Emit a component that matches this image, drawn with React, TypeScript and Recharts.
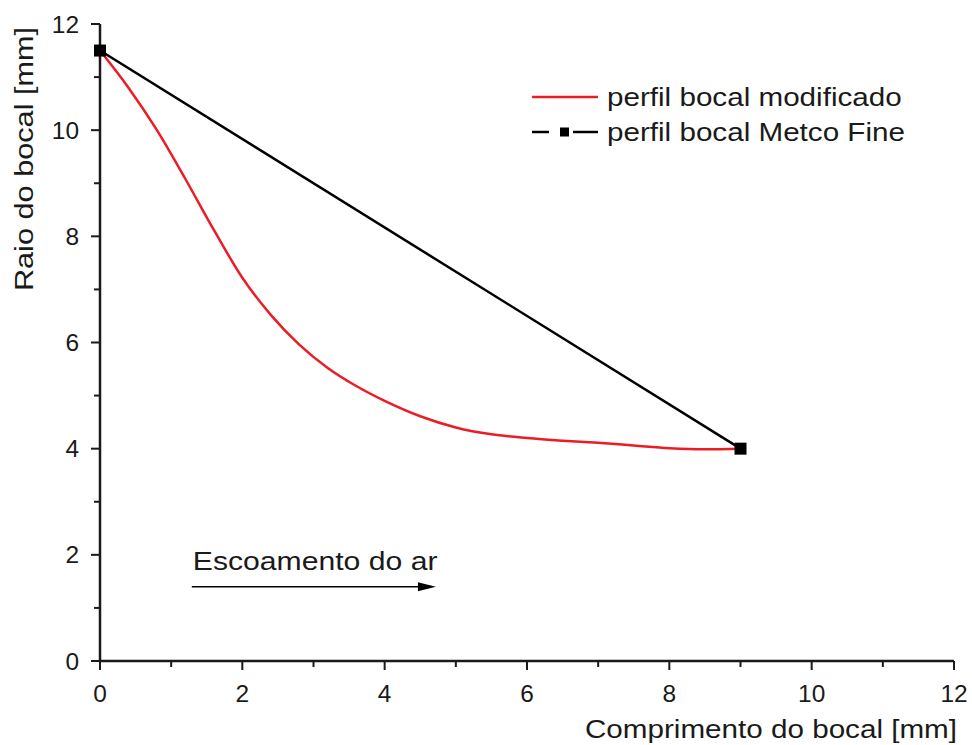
import React from 'react';
import { LineChart, Line, XAxis, YAxis, Legend, ReferenceLine } from 'recharts';

// ---- data ----
const modifiedX = [0, 0.4, 0.8, 1.2, 1.6, 2.0, 2.4, 2.8, 3.2, 3.6, 4.0, 4.5, 5.0, 5.5, 6.0, 6.5, 7.0, 7.5, 8.0, 8.5, 9.0];
const modifiedY = [11.5, 10.8, 10.0, 9.08, 8.12, 7.22, 6.52, 5.96, 5.52, 5.18, 4.9, 4.61, 4.4, 4.27, 4.2, 4.15, 4.11, 4.06, 4.01, 3.99, 4.0];
const metcoX = [0, 9];
const metcoY = [11.5, 4];
const xTicks = [0, 1, 2, 3, 4, 5, 6, 7, 8, 9, 10, 11, 12];
const yTicks = [0, 1, 2, 3, 4, 5, 6, 7, 8, 9, 10, 11, 12];
const seriesNames = ['perfil bocal modificado', 'perfil bocal Metco Fine'];
const flowArrowX = [1.29, 4.72];
const flowArrowY = 1.4;
const flowLabel = 'Escoamento do ar';
const xTitle = 'Comprimento do bocal [mm]';
const yTitle = 'Raio do bocal [mm]';

const modifiedData = modifiedX.map((x, i) => ({ x, y: modifiedY[i] }));
const metcoData = metcoX.map((x, i) => ({ x, y: metcoY[i] }));

const FONT = '"Liberation Sans", Arial, Helvetica, sans-serif';
const INK = '#1a1a1a';
const RED = '#ec1c24';

const XTick = (props: any) => {
  const { x, y, payload } = props;
  const major = payload.value % 2 === 0;
  return (
    <g>
      <line x1={x} x2={x} y1={y} y2={y + (major ? 9 : 6)} stroke={INK} strokeWidth={2} />
      {major && (
        <text
          transform={`translate(${x},${y + 41}) scale(1.02,1)`}
          textAnchor="middle"
          fontSize={24}
          fontFamily={FONT}
          fill={INK}
        >
          {payload.value}
        </text>
      )}
    </g>
  );
};

const YTick = (props: any) => {
  const { x, y, payload } = props;
  const major = payload.value % 2 === 0;
  return (
    <g>
      <line x1={x} x2={x - (major ? 9 : 6)} y1={y} y2={y} stroke={INK} strokeWidth={2} />
      {major && (
        <text
          transform={`translate(${x - 21},${y + 8.5}) scale(1.02,1)`}
          textAnchor="end"
          fontSize={24}
          fontFamily={FONT}
          fill={INK}
        >
          {payload.value}
        </text>
      )}
    </g>
  );
};

const XTitle = (props: any) => {
  const vb = props.viewBox || {};
  return (
    <text
      transform={`translate(${vb.x + vb.width + 3},${vb.y + 77}) scale(1.14,1)`}
      textAnchor="end"
      fontSize={26}
      fontFamily={FONT}
      fill={INK}
    >
      {xTitle}
    </text>
  );
};

const YTitle = (props: any) => {
  const vb = props.viewBox || {};
  return (
    <text
      transform={`translate(${vb.x + 33},${vb.y + 135}) rotate(-90) scale(1.18,1)`}
      textAnchor="middle"
      fontSize={26}
      fontFamily={FONT}
      fill={INK}
    >
      {yTitle}
    </text>
  );
};

const SquareDot = (props: any) => {
  const { cx, cy, index } = props;
  if (cx == null || cy == null) return <g key={`d${index}`} />;
  return <rect key={`d${index}`} x={cx - 6} y={cy - 6} width={12} height={12} fill="#000" />;
};

const ArrowShape = (props: any) => {
  const { x1, y1, x2 } = props;
  return (
    <g>
      <text
        transform={`translate(${x1 + 1},${y1 - 17}) scale(1.16,1)`}
        fontSize={26}
        fontFamily={FONT}
        fill={INK}
      >
        {flowLabel}
      </text>
      <line x1={x1} y1={y1} x2={x2 - 14} y2={y1} stroke="#000" strokeWidth={1.5} />
      <polygon points={`${x2 - 18},${y1 - 4.5} ${x2},${y1} ${x2 - 18},${y1 + 4.5}`} fill="#000" />
    </g>
  );
};

const renderLegend = (props: any) => {
  const payload = props.payload || [];
  const ordered = seriesNames
    .map((n) => payload.find((p: any) => p.value === n))
    .filter(Boolean);
  return (
    <svg width={420} height={80} style={{ display: 'block' }}>
      {ordered.map((item: any, i: number) => {
        const cy = 22 + i * 35;
        const withMarker = item.value === seriesNames[1];
        return (
          <g key={i}>
            {!withMarker ? (
              <line x1={7} x2={73} y1={cy} y2={cy} stroke={item.color} strokeWidth={2.5} />
            ) : (
              <g>
                <line x1={7} x2={24} y1={cy} y2={cy} stroke={item.color} strokeWidth={2.5} />
                <rect x={35} y={cy - 4.5} width={9} height={9} fill={item.color} />
                <line x1={48} x2={73} y1={cy} y2={cy} stroke={item.color} strokeWidth={2.5} />
              </g>
            )}
            <text
              transform={`translate(82,${cy + 9}) scale(1.14,1)`}
              fontSize={26}
              fontFamily={FONT}
              fill={INK}
            >
              {item.value}
            </text>
          </g>
        );
      })}
    </svg>
  );
};

export default function App() {
  return (
    <div style={{ position: 'absolute', left: 0, top: 0, width: 972, height: 745, background: '#fff' }}>
      <LineChart width={972} height={745} margin={{ top: 24, right: 18, bottom: 0, left: 0 }}>
        <XAxis
          type="number"
          dataKey="x"
          domain={[0, 12]}
          ticks={xTicks}
          interval={0}
          height={84}
          tickSize={0}
          tickMargin={0}
          tickLine={false}
          tick={XTick}
          axisLine={{ stroke: INK, strokeWidth: 2.5 }}
          allowDuplicatedCategory={false}
          label={{ content: XTitle }}
        />
        <YAxis
          type="number"
          dataKey="y"
          domain={[0, 12]}
          ticks={yTicks}
          interval={0}
          width={100}
          tickSize={0}
          tickMargin={0}
          tickLine={false}
          tick={YTick}
          axisLine={{ stroke: INK, strokeWidth: 2.5 }}
          label={{ content: YTitle }}
        />
        <ReferenceLine
          segment={[
            { x: flowArrowX[0], y: flowArrowY },
            { x: flowArrowX[1], y: flowArrowY },
          ]}
          shape={ArrowShape}
          ifOverflow="visible"
        />
        <Line
          data={modifiedData}
          dataKey="y"
          name={seriesNames[0]}
          type="monotone"
          stroke={RED}
          strokeWidth={2.5}
          dot={false}
          activeDot={false}
          isAnimationActive={false}
        />
        <Line
          data={metcoData}
          dataKey="y"
          name={seriesNames[1]}
          type="linear"
          stroke="#000"
          strokeWidth={2.5}
          dot={SquareDot}
          activeDot={false}
          isAnimationActive={false}
        />
        <Legend
          layout="vertical"
          align="center"
          verticalAlign="middle"
          content={renderLegend}
          wrapperStyle={{ position: 'absolute', left: 525, top: 75, width: 420, height: 80 }}
        />
      </LineChart>
    </div>
  );
}
